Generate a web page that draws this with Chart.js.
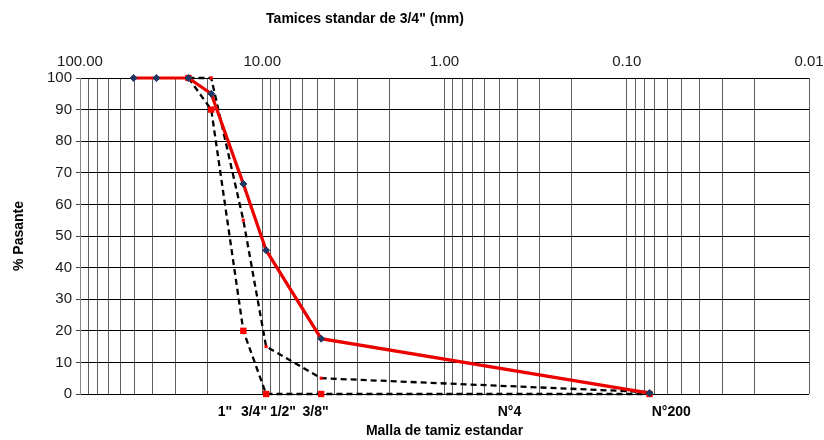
<!DOCTYPE html>
<html>
<head>
<meta charset="UTF-8">
<title>Curva granulometrica</title>
<script src="https://cdn.jsdelivr.net/npm/chart.js"></script>
<style>
    body { margin:0; background:#fff; }
</style>
</head>
<body>
<canvas id="curva" width="824" height="440"></canvas>
<script>
    // abertura de tamiz (mm) y % que pasa de la muestra
    var sieveMm = [50.8, 38.1, 25.4, 19.05, 12.7, 9.525, 4.75, 0.075];
    var passing = [100, 100, 100, 95, 66.5, 45.5, 17.5, 0.3];

    // limites del huso 3/4"
    var limitMm = [25.4, 19.05, 12.7, 9.525, 4.75, 0.075];
    var limitUpper = [100, 100, 55, 15, 5, 0.6];
    var limitLower = [100, 90, 20, 0, 0, 0];

    // nombres de malla del eje inferior y donde se escriben (mm)
    var meshNames = ['1"', '3/4"', '1/2"', '3/8"', 'N°4', 'N°200'];
    var meshNameAt = [16, 11.1, 7.7, 5.1, 0.44, 0.057];

    // rotulos del eje superior (mm)
    var mmLabels = [100, 10, 1, 0.1, 0.01];

    var topTitleText = 'Tamices standar de 3/4" (mm)';

    Chart.defaults.font.family = '"Liberation Sans", Arial, sans-serif';

    var pts = function(xs, ys) {
        return xs.map(function(x, i) { return {x: x, y: ys[i]}; });
    }

    // lineas 1..9 de cada decada
    var logGrid = function(min, max) {
        var out = [];
        for (var e = Math.round(Math.log10(min)); e < Math.round(Math.log10(max)); e++) {
            for (var m = 1; m < 10; m++) out.push({value: m * Math.pow(10, e)});
        }
        out.push({value: max});
        return out;
    }

    var isLabel = function(v) {
        return mmLabels.some(function(l) { return Math.abs(l - v) < l * 1e-6; });
    }

    // titulo de arriba, corrido a la izquierda
    var topTitle = {
        id: 'topTitle',
        afterDraw: function(chart) {
            var ctx = chart.ctx;
            ctx.save();
            ctx.font = 'bold 14px "Liberation Sans", Arial, sans-serif';
            ctx.fillStyle = '#000';
            ctx.textAlign = 'center';
            ctx.textBaseline = 'middle';
            ctx.fillText(topTitleText, 365, 19.5);
            ctx.restore();
        }
    }

    new Chart(document.getElementById('curva'), {
        type: 'line',
        data: {
            datasets: [
                {
                    label: 'Muestra',
                    data: pts(sieveMm, passing),
                    borderColor: 'rgb(235, 0, 0)',
                    borderWidth: 3.2,
                    pointStyle: 'rectRot',
                    pointRadius: 3.5,
                    pointBackgroundColor: '#1f3864',
                    pointBorderColor: '#1f3864',
                    pointBorderWidth: 1,
                    tension: 0,
                    clip: false
                },
                {
                    label: 'Limite superior',
                    data: pts(limitMm, limitUpper),
                    borderColor: '#000',
                    borderWidth: 2.3,
                    borderDash: [6, 4],
                    pointStyle: 'rect',
                    pointRadius: 2.2,
                    pointBackgroundColor: '#ff0000',
                    pointBorderColor: '#ff0000',
                    pointBorderWidth: 0,
                    tension: 0,
                    clip: false
                },
                {
                    label: 'Limite inferior',
                    data: pts(limitMm, limitLower),
                    borderColor: '#000',
                    borderWidth: 2.3,
                    borderDash: [6, 4],
                    pointStyle: 'rect',
                    pointRadius: 4.5,
                    pointBackgroundColor: '#ff0000',
                    pointBorderColor: '#ff0000',
                    pointBorderWidth: 0,
                    tension: 0,
                    clip: false
                }
            ]
        },
        options: {
            responsive: false,
            animation: false,
            layout: { padding: { left: 0, right: 15, top: 0, bottom: 0 } },
            plugins: {
                legend: { display: false },
                tooltip: { enabled: false }
            },
            scales: {
                x: {
                    type: 'logarithmic',
                    position: 'top',
                    min: 0.01,
                    max: 100,
                    reverse: true,
                    afterBuildTicks: function(s) { s.ticks = logGrid(0.01, 100); },
                    afterFit: function(s) { s.height = 78; },
                    grid: { color: '#5e5e5e', lineWidth: 1, drawTicks: false },
                    border: { display: false },
                    ticks: {
                        autoSkip: false,
                        maxRotation: 0,
                        padding: 7,
                        color: '#1a1a1a',
                        font: { size: 15 },
                        callback: function(v) { return isLabel(v) ? Number(v).toFixed(2) : ''; }
                    }
                },
                x2: {
                    type: 'logarithmic',
                    axis: 'x',
                    position: 'bottom',
                    min: 0.01,
                    max: 100,
                    reverse: true,
                    afterBuildTicks: function(s) {
                        s.ticks = meshNameAt.map(function(v) { return {value: v}; });
                    },
                    afterFit: function(s) { s.height = 46; },
                    grid: { display: false },
                    border: { display: false },
                    ticks: {
                        autoSkip: false,
                        maxRotation: 0,
                        padding: 2,
                        color: '#000',
                        font: { size: 14, weight: 'bold' },
                        callback: function(v, i) { return meshNames[i]; }
                    },
                    title: {
                        display: true,
                        text: 'Malla de tamiz estandar',
                        color: '#000',
                        font: { size: 14, weight: 'bold' },
                        padding: 0
                    }
                },
                y: {
                    min: 0,
                    max: 100,
                    afterFit: function(s) { s.width = 80; },
                    grid: { color: '#000', tickColor: '#444', tickLength: 4 },
                    border: { color: '#888' },
                    ticks: {
                        stepSize: 10,
                        padding: 4,
                        color: '#1a1a1a',
                        font: { size: 15 }
                    },
                    title: {
                        display: true,
                        text: '% Pasante',
                        color: '#000',
                        font: { size: 14, weight: 'bold' },
                        padding: { top: 11, bottom: 0 }
                    }
                }
            }
        },
        plugins: [topTitle]
    });
</script>
</body>
</html>
